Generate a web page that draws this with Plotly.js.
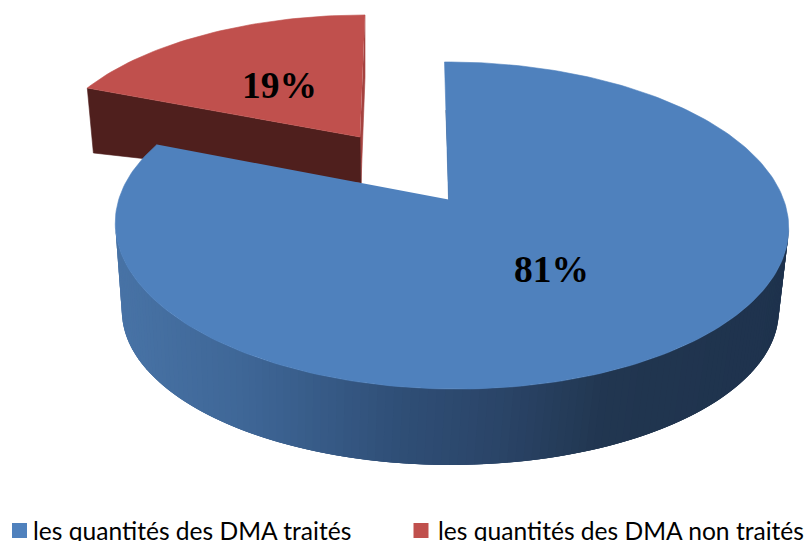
<!DOCTYPE html>
<html>
<head>
<meta charset="utf-8">
<script src="https://cdn.plot.ly/plotly-3.0.1.min.js"></script>
<style>
  html, body { margin: 0; padding: 0; background: #fff; overflow: hidden; }
</style>
</head>
<body>
<div id="chart" style="width:806px;height:541px"></div>
<script>
const categories = ['les quantités des DMA traités', 'les quantités des DMA non traités'];
const values = [81, 19];
const colors = ['#4F81BD', '#C0504D'];

// the 3d look: each disc is a projected circle, plain pixels on hidden axes
const blueTop = { x: 448.5, y: 199.5, A: 159.4, B: 332.4, e: 0.159, f: -0.008, s: -0.029 };
const blueBottom = { x: 449, y: 287.4, A: 150.4, B: 324.6, e: 0.153, f: -0.004, s: 0 };
const redTop = { x: 360, y: 137, A: 140.6, B: 312, e: 0.152, f: 0, s: 0.041 };
const redBottom = { x: 361, y: 183, A: 72, B: 255, e: -0.32, f: 0, s: 0.038 };

const wallStops = [[120, [72, 115, 166]], [250, [62, 102, 150]], [400, [47, 78, 118]], [500, [42, 68, 103]], [600, [33, 54, 80]], [790, [30, 50, 77]]];

function project(m, phi) {
  const u = Math.sin(phi), v = Math.cos(phi);
  const den = 1 + m.e * v + m.f * u;
  const up = m.A * v / den;
  return [m.x + m.B * u / den + m.s * up, m.y - up];
}

function arc(m, from, to, steps) {
  const pts = [];
  for (let i = 0; i <= steps; i++) pts.push(project(m, from + (to - from) * i / steps));
  return pts;
}

function poly(pts, color, lineWidth = 0.6) {
  return {
    x: pts.map(p => p[0]),
    y: pts.map(p => p[1]),
    mode: 'lines',
    type: 'scatter',
    fill: 'toself',
    fillcolor: color,
    line: { color: color, width: lineWidth },
    hoverinfo: 'skip'
  };
}

function wallColor(x) {
  for (let i = 1; i < wallStops.length; i++) {
    if (x <= wallStops[i][0]) {
      const a = wallStops[i - 1], b = wallStops[i];
      const t = Math.max(0, (x - a[0]) / (b[0] - a[0]));
      const c = a[1].map((k, j) => Math.round(k + (b[1][j] - k) * t));
      return `rgb(${c.join(',')})`;
    }
  }
  return `rgb(${wallStops[wallStops.length - 1][1].join(',')})`;
}

const total = values.reduce((a, b) => a + b, 0);
const blueEnd = 2 * Math.PI * values[0] / total;
const turn = 2 * Math.PI;
const traces = [];

// red slice, behind the blue one
const redFarTop = project(redTop, turn), redFarBottom = project(redBottom, turn);
const redApexTop = [redTop.x, redTop.y], redApexBottom = [redBottom.x, redBottom.y];
traces.push(poly([redFarTop, redFarBottom, redApexBottom, redApexTop], '#A5423F'));
traces.push(poly([project(redTop, blueEnd), project(redBottom, blueEnd), redApexBottom, redApexTop], '#4F1F1D'));
traces.push(poly([redApexTop].concat(arc(redTop, blueEnd, turn, 50)), colors[1]));

// blue outer wall, strips overlap the next one so no seams show
const wallFrom = Math.acos(-blueTop.e), wallTo = turn - wallFrom;
const nStrips = 130;
for (let i = 0; i < nStrips; i++) {
  const a = wallFrom + (wallTo - wallFrom) * i / nStrips;
  const b = Math.min(wallTo, wallFrom + (wallTo - wallFrom) * (i + 3) / nStrips);
  const mid = wallFrom + (wallTo - wallFrom) * (i + 0.5) / nStrips;
  const quad = [project(blueTop, a), project(blueTop, b), project(blueBottom, b), project(blueBottom, a)];
  traces.push(poly(quad, wallColor(project(blueBottom, mid)[0]), 0));
}

// sliver of the inner wall seen along the top edge
const blueFar = project(blueTop, 0);
const blueApex = [blueTop.x, blueTop.y];
const sliverStart = [blueFar[0] + (blueApex[0] - blueFar[0]) * 0.35, blueFar[1] + (blueApex[1] - blueFar[1]) * 0.35];
traces.push(poly([sliverStart, [blueApex[0] + 2, blueApex[1]], blueApex], '#1F334D'));

// blue top
traces.push(poly([blueApex].concat(arc(blueTop, 0, blueEnd, 240)), colors[0]));

// legend squares
traces.push({
  x: [19.5, 421],
  y: [530.5, 530.5],
  mode: 'markers',
  type: 'scatter',
  marker: { symbol: 'square', size: 15, color: colors },
  hoverinfo: 'skip'
});

const labelPos = [[551.5, 269.5], [279, 85.5]];
const annotations = values.map((v, i) => ({
  x: labelPos[i][0], y: labelPos[i][1],
  text: '<b>' + v + '%</b>',
  showarrow: false,
  font: { family: '"Liberation Serif", serif', size: 37.5, color: '#000' }
}));
const legendX = [31, 436];
categories.forEach((c, i) => annotations.push({
  x: legendX[i], y: 530,
  text: c,
  xanchor: 'left',
  showarrow: false,
  font: { family: 'Lato, sans-serif', size: 24.6, color: '#000' }
}));

const layout = {
  width: 806,
  height: 541,
  margin: { l: 0, r: 0, t: 0, b: 0 },
  paper_bgcolor: '#fff',
  plot_bgcolor: '#fff',
  showlegend: false,
  hovermode: false,
  xaxis: { range: [0, 806], visible: false, fixedrange: true },
  yaxis: { range: [541, 0], visible: false, fixedrange: true },
  annotations: annotations
};

Plotly.newPlot('chart', traces, layout, { displayModeBar: false });
</script>
</body>
</html>
